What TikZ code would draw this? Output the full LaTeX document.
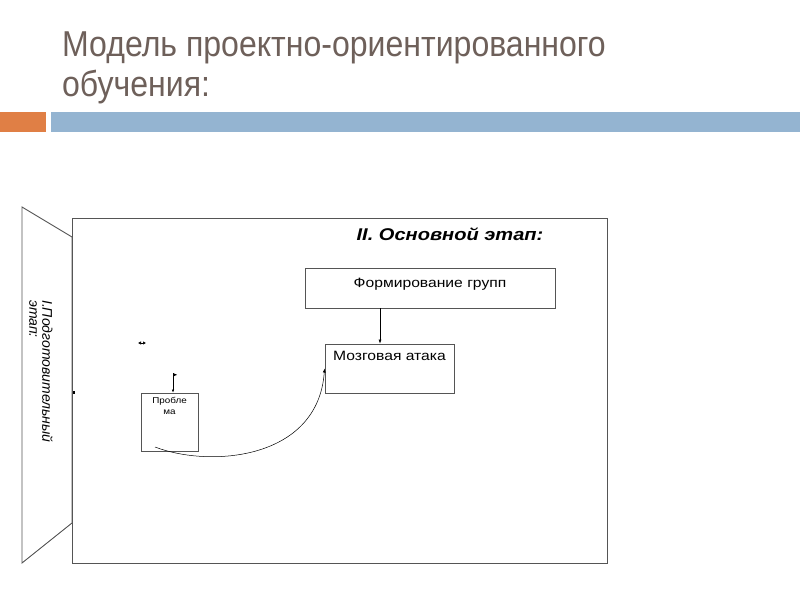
\documentclass[tikz,border=0pt]{standalone}
\usepackage{fontspec}
\setmainfont{Liberation Sans}
\usetikzlibrary{arrows.meta,positioning}
\definecolor{titlegray}{RGB}{110,96,90}
\definecolor{barorange}{RGB}{224,127,69}
\definecolor{barblue}{RGB}{148,180,209}
\definecolor{linegray}{RGB}{85,85,85}

\tikzset{
  stagebox/.style={draw=linegray, line width=0.9pt, rectangle, inner sep=0pt},
  boxtext/.style={inner sep=0pt, font=\fontsize{13.5}{15}\selectfont, xscale=1.16, transform shape},
  thinarrow/.style={-{Latex[length=4pt,width=3pt]}, line width=0.5pt, draw=black}
}

\begin{document}
\begin{tikzpicture}[x=1pt,y=-1pt]
    \useasboundingbox (0,0) rectangle (800,600);

    % Title
    \node[anchor=north west, inner sep=0pt, text=titlegray, align=left,
          font=\fontsize{36}{40}\selectfont, xscale=0.89, transform shape]
        (title) at (62,32) {Модель проектно-ориентированного\\обучения:};

    % Bar
    \fill[barorange] (0,112) rectangle (46,132);
    \fill[barblue] (51,112) rectangle (800,132);

    % Preparatory stage
    \draw[linegray, line width=0.9pt] (22,207) -- (72,237) -- (72,523) -- (22,563) -- cycle;
    \node[rotate=-90, anchor=north west, inner sep=0pt, align=left,
          font=\fontsize{14}{13}\selectfont\itshape] (prep) at (53,300)
        {I.Подготовительный\\этап:};

    % Main stage
    \draw[linegray, line width=0.9pt] (72,218) rectangle (607,563);
    \node[font=\fontsize{17}{20}\selectfont\bfseries\itshape, inner sep=0pt,
          xscale=1.18, transform shape]
        (mainhead) at (450,234) {II. Основной этап:};

    % Boxes
    \node[stagebox, minimum width=250pt, minimum height=40pt] (grp) at (430,288) {};
    \node[boxtext, below=10pt of grp.north] (grptext) {Формирование групп};

    \node[stagebox, minimum width=129pt, minimum height=49pt] (atk) at (389.5,368.5) {};
    \node[boxtext, below=7pt of atk.north] (atktext) {Мозговая атака};

    \node[stagebox, minimum width=57pt, minimum height=58pt] (prob) at (169.5,422) {};
    \node[inner sep=0pt, align=center, font=\fontsize{8.5}{11}\selectfont,
          xscale=1.16, transform shape, below=5pt of prob.north] (probtext) {Пробле\\ма};

    % Connectors
    \coordinate (grpout) at ([xshift=-50pt]grp.south);
    \draw[thinarrow] (grpout) -- (grpout |- atk.north);

    \coordinate (curvestart) at (155,447);
    \draw[thinarrow] (curvestart) .. controls (210,468) and (318,460) .. (atk.west);

    % Stray marks
    \coordinate (flagtop) at (173,373);
    \draw[thinarrow, -{Latex[length=3pt,width=2.5pt]}] (flagtop) -- (flagtop |- prob.north);
    \fill (flagtop) -- ++(4,1.8) -- ++(-4,1.8) -- cycle;

    \coordinate (markleft) at (138,343);
    \draw[line width=1pt, {Latex[length=3pt,width=3.5pt]}-{Latex[length=3pt,width=3.5pt]}]
        (markleft) -- ++(8,0);

    \fill (72.5,390.5) rectangle (74.5,393.5);
\end{tikzpicture}
\end{document}
